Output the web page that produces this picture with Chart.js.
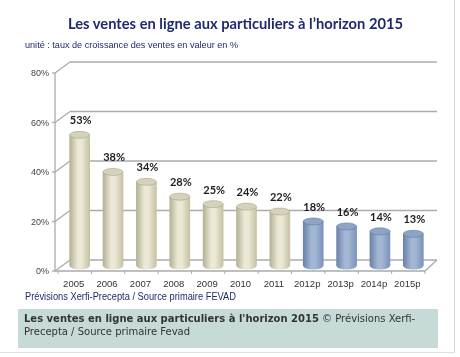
<!DOCTYPE html>
<html><head><meta charset="utf-8">
<script src="https://cdn.jsdelivr.net/npm/chart.js@4"></script>
<style>
html,body{margin:0;padding:0;background:#fff;}
#wrap{position:relative;width:460px;height:357px;overflow:hidden;background:#fff;}
#frameR{position:absolute;left:454px;top:0;width:1px;height:352px;background:#d8d8d8;}
#frameB{position:absolute;left:0;top:352px;width:455px;height:1px;background:#e0e0e0;}
#title{position:absolute;left:68px;top:13px;white-space:nowrap;font:bold 16px Lato,sans-serif;color:#1f2a6e;transform-origin:0 0;}
#sub{position:absolute;left:25px;top:39px;white-space:nowrap;font:9.5px "Liberation Sans",sans-serif;color:#1f2a6e;transform-origin:0 0;}
#src{position:absolute;left:25px;top:290px;white-space:nowrap;font:11px "Liberation Sans",sans-serif;color:#1f2a6e;transform-origin:0 0;}
#cap{position:absolute;left:18px;top:309px;width:420px;height:39px;background:#c6dad8;}
#capt{position:absolute;left:24px;top:312px;width:412px;font:10px "DejaVu Sans",sans-serif;color:#333;line-height:13px;}
canvas{position:absolute;left:0;top:0;}
</style></head>
<body><div id="wrap">
<canvas id="c" width="460" height="357"></canvas>
<div id="frameR"></div><div id="frameB"></div>
<div id="title">Les ventes en ligne aux particuliers à l’horizon 2015</div>
<div id="sub">unité : taux de croissance des ventes en valeur en %</div>
<div id="src">Prévisions Xerfi-Precepta / Source primaire FEVAD</div>
<div id="cap"></div>
<div id="capt"><b>Les ventes en ligne aux particuliers à l'horizon 2015</b> © Prévisions Xerfi-Precepta / Source primaire Fevad</div>
</div>
<script>
const categories = ['2005','2006','2007','2008','2009','2010','2011','2012p','2013p','2014p','2015p'];
const growth = [53,38,34,28,25,24,22,18,16,14,13];
const isForecast = [false,false,false,false,false,false,false,true,true,true,true];
const yTicks = [0,20,40,60,80];

function fitWidth(id, w){
  const el = document.getElementById(id);
  const cur = el.getBoundingClientRect().width;
  el.style.transform = 'scaleX(' + (w/cur) + ')';
}
fitWidth('title', 335);
fitWidth('sub', 213);
fitWidth('src', 211);

const pal = {
  real: {edgeL:'#b5b196', mid:'#ebe8d5', edgeR:'#c6c2a6', top:'#d6d2ba', stroke:'#a9a58a'},
  fc:   {edgeL:'#6a83ab', mid:'#a3b6d3', edgeR:'#7a93bb', top:'#8ea3c6', stroke:'#627ba3'}
};

function barGradient(context){
  const chart = context.chart;
  const i = context.dataIndex;
  const p = isForecast[i] ? pal.fc : pal.real;
  if(!chart.chartArea || !chart.scales.x) return p.mid;
  const cx = chart.scales.x.getPixelForValue(i);
  const half = 10;
  const g = chart.ctx.createLinearGradient(cx-half,0,cx+half,0);
  g.addColorStop(0,p.edgeL);
  g.addColorStop(0.4,p.mid);
  g.addColorStop(0.6,p.mid);
  g.addColorStop(1,p.edgeR);
  return g;
}

const DEPTH_UP = 6, DEPTH_DN = 5, DX = 15;
const frame3d = {
  id:'frame3d',
  beforeDatasetsDraw(chart){
    const {ctx, chartArea:a, scales:{x,y}} = chart;
    ctx.save();
    ctx.strokeStyle='#ababab';
    ctx.lineWidth=1.3;
    const fl = 55, fr = a.right-5;
    yTicks.forEach(v=>{
      const py = y.getPixelForValue(v);
      ctx.beginPath();
      ctx.moveTo(fl+DX, py-DEPTH_UP);
      ctx.lineTo(fr+DX-3, py-DEPTH_UP);
      ctx.stroke();
      ctx.beginPath();
      ctx.moveTo(fl, py+DEPTH_DN);
      ctx.lineTo(fl+DX, py-DEPTH_UP);
      ctx.stroke();
      ctx.beginPath();
      ctx.moveTo(fl-3, py+DEPTH_DN);
      ctx.lineTo(fl, py+DEPTH_DN);
      ctx.stroke();
    });
    ctx.beginPath();
    ctx.moveTo(fl, y.getPixelForValue(80)+DEPTH_DN);
    ctx.lineTo(fl, y.getPixelForValue(0)+DEPTH_DN);
    ctx.stroke();
    const p0 = y.getPixelForValue(0);
    ctx.beginPath();
    ctx.moveTo(fl, p0+DEPTH_DN);
    ctx.lineTo(fr, p0+DEPTH_DN);
    ctx.lineTo(fr+DX-3, p0-DEPTH_UP);
    ctx.stroke();
    ctx.lineWidth=1;
    const step = x.getPixelForValue(1)-x.getPixelForValue(0);
    for(let i=0;i<=categories.length;i++){
      const px = x.getPixelForValue(0) - step/2 + i*step - 5;
      ctx.beginPath();
      ctx.moveTo(px, p0+DEPTH_DN);
      ctx.lineTo(px, p0+DEPTH_DN+3);
      ctx.stroke();
    }
    ctx.restore();
  },
  afterDatasetsDraw(chart){
    const {ctx} = chart;
    const meta = chart.getDatasetMeta(0);
    ctx.save();
    meta.data.forEach((el,i)=>{
      const p = isForecast[i] ? pal.fc : pal.real;
      const rx = el.width/2, ry = 3.5;
      const g = ctx.createLinearGradient(el.x-rx,0,el.x+rx,0);
      g.addColorStop(0,p.edgeL); g.addColorStop(0.4,p.mid); g.addColorStop(0.6,p.mid); g.addColorStop(1,p.edgeR);
      ctx.fillStyle = g;
      ctx.beginPath();
      ctx.ellipse(el.x, el.base, rx, ry, 0, 0, Math.PI);
      ctx.fill();
      ctx.fillStyle = p.top;
      ctx.strokeStyle = p.stroke;
      ctx.lineWidth = 0.6;
      ctx.beginPath();
      ctx.ellipse(el.x, el.y, rx, ry, 0, 0, Math.PI*2);
      ctx.fill();
      ctx.stroke();
      ctx.fillStyle = '#1e1e1e';
      ctx.font = 'bold 11px Lato, sans-serif';
      ctx.textAlign = 'center';
      ctx.textBaseline = 'middle';
      ctx.fillText(growth[i] + '%', el.x + 1, el.y - 14);
    });
    ctx.restore();
  }
};

new Chart(document.getElementById('c'), {
  type:'bar',
  data:{
    labels: categories,
    datasets:[{
      data: growth,
      backgroundColor: barGradient,
      borderWidth: 0,
      barThickness: 20
    }]
  },
  options:{
    responsive:false,
    animation:false,
    events:[],
    layout:{padding:{left:0,right:30,top:68,bottom:65}},
    plugins:{legend:{display:false},tooltip:{enabled:false}},
    scales:{
      x:{
        grid:{display:false,drawTicks:false},
        border:{display:false},
        ticks:{color:'#333',font:{family:'"Liberation Sans", sans-serif',size:9.5},padding:13,maxRotation:0,autoSkip:false,labelOffset:-6},
        afterFit(s){ s.height = 26; }
      },
      y:{
        min:0,max:80,
        grid:{display:false,drawTicks:false},
        border:{display:false},
        ticks:{stepSize:20,color:'#444',font:{family:'"Liberation Sans", sans-serif',size:9},padding:14,labelOffset:6,callback:v=>v+'%'},
        afterFit(s){ s.width = 63; }
      }
    }
  },
  plugins:[frame3d]
});
</script>
</body></html>
